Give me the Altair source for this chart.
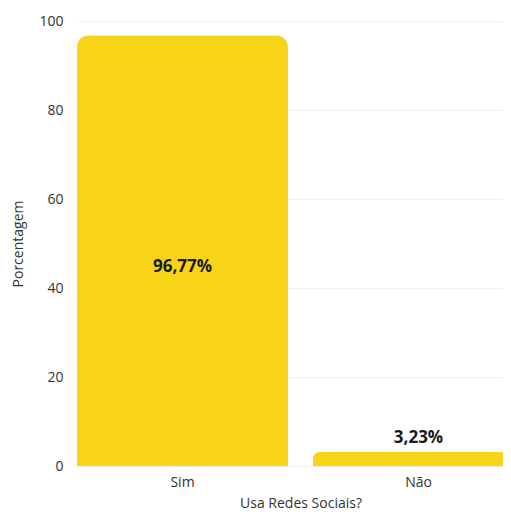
import altair as alt
import pandas as pd

categories = ["Sim", "Não"]
values = [96.77, 3.23]
labels = ["96,77%", "3,23%"]

df = pd.DataFrame({"cat": categories, "val": values, "lab": labels})

FONT = "Open Sans"
YELLOW = "#F7D417"

xscale = alt.Scale(range=[0, 447], paddingInner=0.106, paddingOuter=0)
yscale = alt.Scale(domain=[0, 100], nice=False, zero=True)

x = alt.X("cat:N", sort=categories, title="Usa Redes Sociais?", scale=xscale,
          axis=alt.Axis(labelAngle=0, domain=False, ticks=False, labelPadding=9,
                        labelFontSize=14, labelColor="#333", labelFont=FONT,
                        titleFontSize=14, titleColor="#333", titleFont=FONT,
                        titleFontWeight="normal", titlePadding=7))
y = alt.Y("val:Q", title="Porcentagem", scale=yscale,
          axis=alt.Axis(values=[0, 20, 40, 60, 80, 100], domain=False, ticks=False,
                        labelPadding=14, labelFontSize=14, labelColor="#333", labelFont=FONT,
                        titleFontSize=14, titleColor="#333", titleFont=FONT,
                        titleFontWeight="normal", titlePadding=13,
                        gridColor="#eeeeee"))

base = alt.Chart(df)

bars = base.mark_bar(color=YELLOW, cornerRadiusTopLeft=12,
                     cornerRadiusTopRight=12).encode(x=x, y=y)

inside = base.transform_filter(alt.datum.val > 50).transform_calculate(
    mid="datum.val / 2").mark_text(fontSize=17, fontWeight="bold", font=FONT,
                                   color="#1a1a1a", baseline="middle", dy=16).encode(
    x=alt.X("cat:N", sort=categories, scale=xscale),
    y=alt.Y("mid:Q", scale=yscale), text="lab:N")

above = base.transform_filter(alt.datum.val <= 50).mark_text(
    fontSize=17, fontWeight="bold", font=FONT, color="#1a1a1a",
    baseline="bottom", dy=-5).encode(
    x=alt.X("cat:N", sort=categories, scale=xscale),
    y=alt.Y("val:Q", scale=yscale), text="lab:N")

chart = alt.layer(bars, inside, above).properties(
    width=495, height=502,
    autosize=alt.AutoSizeParams(type="fit", contains="padding"),
    padding={"left": 3, "top": 6, "right": 0, "bottom": 0},
).configure_view(stroke=None)

chart.save("out.html", embed_options={"renderer": "svg", "actions": False})
